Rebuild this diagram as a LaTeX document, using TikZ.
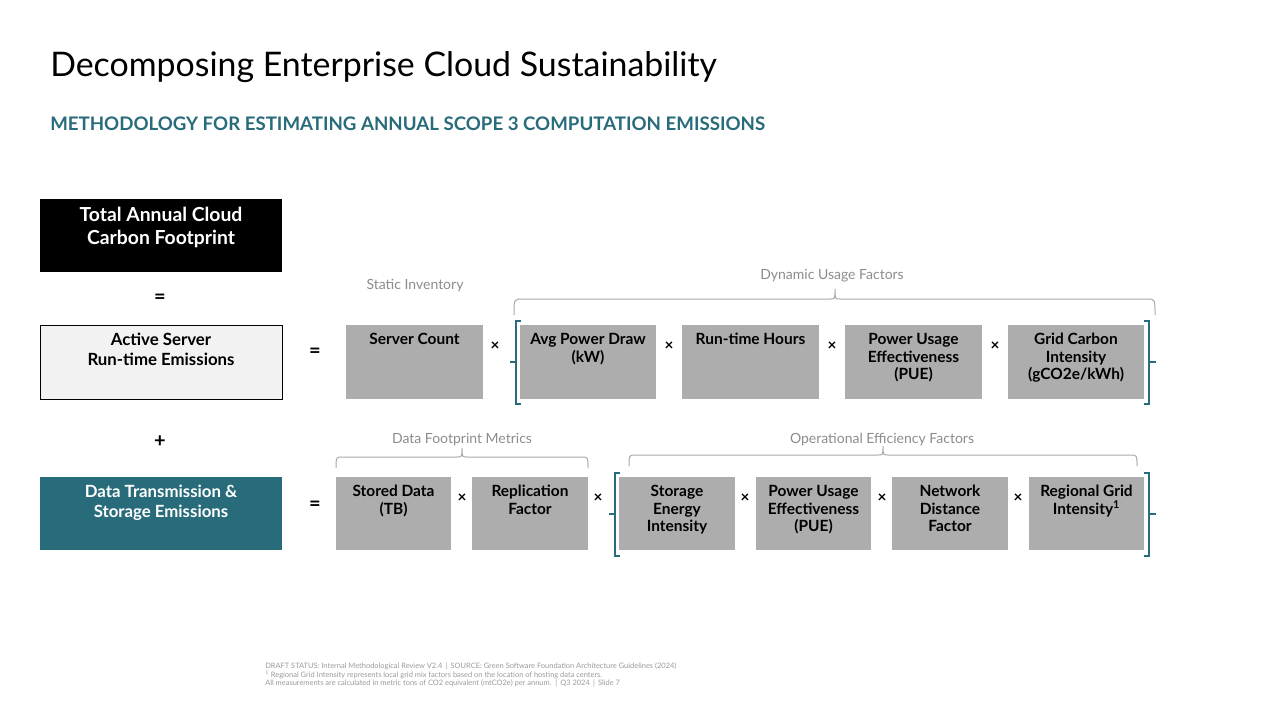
\documentclass[tikz,border=0pt]{standalone}
\usepackage{fontspec}
\setmainfont{Lato}
\definecolor{tealc}{HTML}{286B7A}
\definecolor{boxgray}{HTML}{ADADAD}
\definecolor{lightbox}{HTML}{F2F2F2}
\definecolor{bracegray}{HTML}{A8A8A8}
\definecolor{labelgray}{HTML}{8C8C8C}
\definecolor{footgray}{HTML}{9A9A9A}
\newdimen\upx \upx=0.75pt
\newcommand\fs[2]{\fontsize{#1}{#2}\selectfont}
\newcommand\bxt[4]{\parbox[c][#2\upx][t]{#1\upx}{\centering\rule{0pt}{#3\upx}#4}}
\newcommand\gf{\fs{11.6}{13.2}\bfseries}
\begin{document}
\begin{tikzpicture}[x=0.75pt,y=-0.75pt,
  box/.style={inner sep=0pt,outer sep=0pt,anchor=north west},
  gbox/.style={box,fill=boxgray},
  op/.style={font=\fs{11.5}{11}\bfseries,inner sep=0pt},
  eqop/.style={font=\fs{15}{15}\bfseries,inner sep=0pt},
  brk/.style={draw=tealc,line width=2.2pt},
  brc/.style={draw=bracegray,line width=0.75pt},
  glabel/.style={font=\fs{10.5}{12},text=labelgray,inner sep=0pt}]
\path[use as bounding box] (0,0) rectangle (1280,720);

% titles
\node[anchor=base west,inner sep=0pt,font=\fs{25.4}{30}] (title) at (50,77) {Decomposing Enterprise Cloud Sustainability};
\node[anchor=base west,inner sep=0pt,font=\fs{14}{16}\bfseries,text=tealc] (subtitle) at (50,131) {METHODOLOGY FOR ESTIMATING ANNUAL SCOPE 3 COMPUTATION EMISSIONS};

% left column
\node[box,fill=black,text=white] (total) at (40,199) {\bxt{242}{73}{23}{\fs{14.5}{16.5}\bfseries Total Annual Cloud\\Carbon Footprint}};
\node[eqop] (eq0) at (160,299) {=};
\node[box,fill=lightbox,draw=black,line width=0.75pt] (active) at (40,325) {\bxt{242}{74}{20.5}{\fs{12.6}{15}\bfseries Active Server\\Run-time Emissions}};
\node[eqop] (plus) at (160,442) {+};
\node[box,fill=tealc,text=white] (data) at (40,477) {\bxt{242}{73}{20.5}{\fs{12.6}{15}\bfseries Data Transmission \&\\Storage Emissions}};

% row 1
\node[eqop] (eq1) at (315,353) {=};
\node[gbox] (sc) at (346,325) {\bxt{137}{74}{19.5}{\gf Server Count}};
\node[op] (x1) at (495,346) {×};
\node[gbox] (apd) at (520,325) {\bxt{136}{74}{19.5}{\gf Avg Power Draw\\(kW)}};
\node[op] (x2) at (669,346) {×};
\node[gbox] (rth) at (682,325) {\bxt{137}{74}{19.5}{\gf Run-time Hours}};
\node[op] (x3) at (832,346) {×};
\node[gbox] (pue1) at (845,325) {\bxt{137}{74}{19.5}{\gf Power Usage\\Effectiveness\\(PUE)}};
\node[op] (x4) at (995,346) {×};
\node[gbox] (gci) at (1008,325) {\bxt{136}{74}{19.5}{\gf Grid Carbon\\Intensity\\(gCO2e/kWh)}};

% row 1 brackets
\draw[brk] (521,321) -- (516,321) -- (516,404) -- (521,404);
\draw[brk] (516,362) -- (510,362);
\draw[brk] (1144,321) -- (1149,321) -- (1149,404) -- (1144,404);
\draw[brk] (1149,362) -- (1156,362);

% row 1 labels and brace
\node[glabel] (static) at (415,286) {Static Inventory};
\node[glabel] (dyn) at (832,276) {Dynamic Usage Factors};
\draw[brc] (514,315) .. controls (514,299) .. (522,299) -- (830,299) .. controls (835,299) .. (835,289) .. controls (835,299) .. (840,299) -- (1147,299) .. controls (1155,299) .. (1155,315);

% row 2
\node[eqop] (eq2) at (315,506) {=};
\node[gbox] (sd) at (336,477) {\bxt{115}{73}{19.5}{\gf Stored Data\\(TB)}};
\node[op] (y1) at (462,498) {×};
\node[gbox] (rf) at (472,477) {\bxt{116}{73}{19.5}{\gf Replication\\Factor}};
\node[op] (y2) at (598,498) {×};
\node[gbox] (sei) at (619,477) {\bxt{116}{73}{19.5}{\gf Storage\\Energy\\Intensity}};
\node[op] (y3) at (745,498) {×};
\node[gbox] (pue2) at (756,477) {\bxt{115}{73}{19.5}{\gf Power Usage\\Effectiveness\\(PUE)}};
\node[op] (y4) at (882,498) {×};
\node[gbox] (ndf) at (892,477) {\bxt{116}{73}{19.5}{\gf Network\\Distance\\Factor}};
\node[op] (y5) at (1018,498) {×};
\node[gbox] (rgi) at (1029,477) {\bxt{115}{73}{19.5}{\gf Regional Grid\\Intensity\textsuperscript{1}}};

% row 2 brackets
\draw[brk] (620,473) -- (615,473) -- (615,556) -- (620,556);
\draw[brk] (615,514) -- (609,514);
\draw[brk] (1144,473) -- (1149,473) -- (1149,556) -- (1144,556);
\draw[brk] (1149,514) -- (1156,514);

% row 2 labels and braces
\node[glabel] (dfm) at (462,440) {Data Footprint Metrics};
\draw[brc] (336,468) .. controls (336,457) .. (343,457) -- (457,457) .. controls (462,457) .. (462,448) .. controls (462,457) .. (467,457) -- (581,457) .. controls (588,457) .. (588,468);
\node[glabel] (oef) at (882,440) {Operational Efficiency Factors};
\draw[brc] (629,466) .. controls (629,455) .. (636,455) -- (878,455) .. controls (883,455) .. (883,446) .. controls (883,455) .. (888,455) -- (1130,455) .. controls (1137,455) .. (1137,466);

% footnote
\node[anchor=north west,inner sep=0pt,align=left,text=footgray,font=\fs{5.6}{5.4}] (foot) at (265,662) {DRAFT STATUS: Internal Methodological Review V2.4 \,|\, SOURCE: Green Software Foundation Architecture Guidelines (2024)\\
\textsuperscript{1} Regional Grid Intensity represents local grid mix factors based on the location of hosting data centers.\\
All measurements are calculated in metric tons of CO2 equivalent (mtCO2e) per annum. \,|\, Q3 2024 \,|\, Slide 7};
\end{tikzpicture}
\end{document}
